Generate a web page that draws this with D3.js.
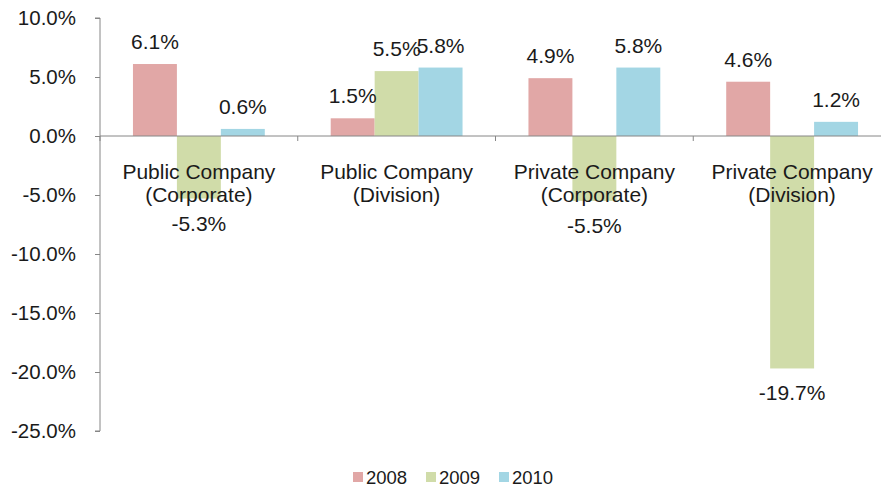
<!DOCTYPE html>
<html>
<head>
<meta charset="utf-8">
<script src="https://cdn.jsdelivr.net/npm/d3@7"></script>
<style>
    body { margin: 0; background: #fff; }
    text { font-family: "Liberation Sans", Arial, sans-serif; fill: #1a1a1a; }
</style>
</head>
<body>
<div id="chart"></div>
<script>
var categories = [["Public Company", "(Corporate)"], ["Public Company", "(Division)"],
                  ["Private Company", "(Corporate)"], ["Private Company", "(Division)"]];
var years = ["2008", "2009", "2010"];
var values2008 = [6.1, 1.5, 4.9, 4.6];
var values2009 = [-5.3, 5.5, -5.5, -19.7];
var values2010 = [0.6, 5.8, 5.8, 1.2];
var yTicks = [10, 5, 0, -5, -10, -15, -20, -25];

var seriesValues = [values2008, values2009, values2010];
var colors = ["#e1a7a6", "#d0dca9", "#a3d6e4"];

var width = 881, height = 488;
var margin = { left: 100, right: 891, top: 18, bottom: 431 };
var fontSize = "21px";

var svg = d3.select("#chart").append("svg")
    .attr("width", width)
    .attr("height", height);

var x0 = d3.scaleBand()
    .domain(d3.range(categories.length))
    .range([margin.left, margin.right])
    .paddingInner(1 / 3)
    .paddingOuter(1 / 6);

var x1 = d3.scaleBand()
    .domain(d3.range(years.length))
    .range([0, x0.bandwidth()]);

var y = d3.scaleLinear()
    .domain([-25, 10])
    .range([margin.bottom, margin.top]);

var axisColor = "#868686";

// Bars
for (var si = 0; si < years.length; si++)
{
    var vals = seriesValues[si];
    for (var ci = 0; ci < categories.length; ci++)
    {
        var v = vals[ci];
        svg.append("rect")
            .attr("x", x0(ci) + x1(si))
            .attr("y", y(Math.max(0, v)))
            .attr("width", x1.bandwidth())
            .attr("height", Math.abs(y(v) - y(0)))
            .style("fill", colors[si]);
    }
}

// Y axis
var yAxis = svg.append("g")
    .attr("transform", "translate(" + margin.left + ",0)")
    .call(d3.axisLeft(y).tickValues(yTicks).tickSize(5).tickPadding(19)
        .tickFormat(function(d) { return d.toFixed(1) + "%"; }));
yAxis.select(".domain").attr("stroke", axisColor).attr("d", "M-5," + y(10) + "H0V" + y(-25) + "H-5");
yAxis.selectAll(".tick line").attr("stroke", axisColor);
yAxis.selectAll(".tick text")
    .style("font-size", "20.5px")
    .style("font-family", "'Liberation Sans', Arial, sans-serif")
    .attr("fill", "#1a1a1a");

// Zero line with group tick marks
svg.append("line")
    .attr("x1", margin.left).attr("x2", margin.right)
    .attr("y1", y(0)).attr("y2", y(0))
    .style("stroke", axisColor);
var step = x0.step();
for (var i = 0; i <= categories.length; i++)
{
    var bx = margin.left + i * step;
    svg.append("line")
        .attr("x1", bx).attr("x2", bx)
        .attr("y1", y(0)).attr("y2", y(0) + 5)
        .style("stroke", axisColor);
}

// Category labels
for (var ci = 0; ci < categories.length; ci++)
{
    var cx = margin.left + (ci + 0.5) * step;
    svg.append("text")
        .attr("x", cx).attr("y", y(0) + 43)
        .attr("text-anchor", "middle")
        .style("font-size", fontSize)
        .text(categories[ci][0]);
    svg.append("text")
        .attr("x", cx).attr("y", y(0) + 66)
        .attr("text-anchor", "middle")
        .style("font-size", fontSize)
        .text(categories[ci][1]);
}

// Data labels
for (var si = 0; si < years.length; si++)
{
    var vals = seriesValues[si];
    for (var ci = 0; ci < categories.length; ci++)
    {
        var v = vals[ci];
        var lx = x0(ci) + x1(si) + x1.bandwidth() / 2;
        var ly = v >= 0 ? y(v) - 15 : y(v) + 32;
        svg.append("text")
            .attr("x", lx).attr("y", ly)
            .attr("text-anchor", "middle")
            .style("font-size", fontSize)
            .text(v.toFixed(1) + "%");
    }
}

// Legend
var legendX = [353, 426, 499];
for (var si = 0; si < years.length; si++)
{
    svg.append("rect")
        .attr("x", legendX[si]).attr("y", 472)
        .attr("width", 10).attr("height", 10)
        .style("fill", colors[si]);
    svg.append("text")
        .attr("x", legendX[si] + 13).attr("y", 484)
        .style("font-size", "18.5px")
        .text(years[si]);
}
</script>
</body>
</html>
